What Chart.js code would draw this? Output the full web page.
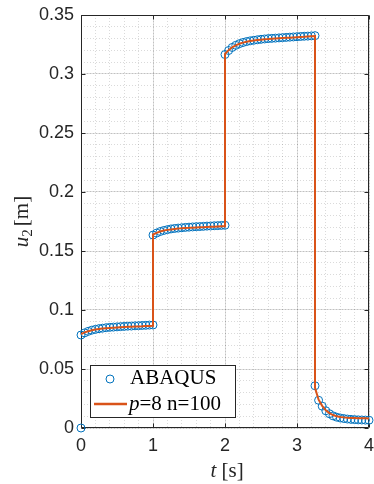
<!DOCTYPE html>
<html>
<head>
<meta charset="utf-8">
<script src="https://cdn.jsdelivr.net/npm/chart.js@4.4.1/dist/chart.umd.min.js"></script>
<style>
  html, body { margin: 0; padding: 0; background: #fff; }
  #wrap { width: 374px; height: 484px; }
</style>
</head>
<body>
<div id="wrap"><canvas id="chart-u2" width="374" height="484"></canvas></div>
<script>
// ── Data ─────────────────────────────────────────────────────
// time steps shared by both series (jumps at t = 1, 2 and 3.25 repeat the time)
const time = [
  0, 0.05, 0.1, 0.15, 0.2, 0.25, 0.3, 0.35, 0.4, 0.45, 0.5, 0.55, 0.6, 0.65, 0.7, 0.75, 0.8, 0.85, 0.9, 0.95, 1,
  1, 1.05, 1.1, 1.15, 1.2, 1.25, 1.3, 1.35, 1.4, 1.45, 1.5, 1.55, 1.6, 1.65, 1.7, 1.75, 1.8, 1.85, 1.9, 1.95, 2,
  2, 2.05, 2.1, 2.15, 2.2, 2.25, 2.3, 2.35, 2.4, 2.45, 2.5, 2.55, 2.6, 2.65, 2.7, 2.75, 2.8, 2.85, 2.9, 2.95, 3, 3.05, 3.1, 3.15, 3.2, 3.25,
  3.25, 3.3, 3.35, 3.4, 3.45, 3.5, 3.55, 3.6, 3.65, 3.7, 3.75, 3.8, 3.85, 3.9, 3.95, 4
];

// ABAQUS starts with an extra point at rest (t = 0, u = 0)
const tAbaqus = [0].concat(time);
const uAbaqus = [
  0,
  0.0788, 0.0806, 0.0819, 0.0829, 0.0836, 0.0842, 0.0846, 0.0850, 0.0853, 0.0855, 0.0857, 0.0859, 0.0861, 0.0863, 0.0864, 0.0866, 0.0867, 0.0869, 0.0870, 0.0872, 0.0873,
  0.1635, 0.1652, 0.1665, 0.1674, 0.1681, 0.1687, 0.1691, 0.1694, 0.1697, 0.1700, 0.1702, 0.1704, 0.1706, 0.1707, 0.1709, 0.1711, 0.1712, 0.1714, 0.1715, 0.1717, 0.1718,
  0.3165, 0.3199, 0.3225, 0.3243, 0.3257, 0.3267, 0.3275, 0.3281, 0.3286, 0.3290, 0.3294, 0.3297, 0.3300, 0.3302, 0.3304, 0.3306, 0.3308, 0.3310, 0.3312, 0.3314, 0.3316, 0.3318, 0.3320, 0.3321, 0.3323, 0.3325,
  0.0358, 0.0235, 0.0185, 0.0146, 0.0121, 0.0103, 0.0092, 0.0085, 0.0080, 0.0076, 0.0073, 0.0071, 0.0069, 0.0068, 0.0067, 0.0066
];

const uModel = [
  0.0795, 0.0810, 0.0820, 0.0828, 0.0834, 0.0839, 0.0843, 0.0846, 0.0848, 0.0850, 0.0852, 0.0854, 0.0856, 0.0857, 0.0858, 0.0860, 0.0861, 0.0862, 0.0864, 0.0865, 0.0866,
  0.1640, 0.1654, 0.1665, 0.1673, 0.1679, 0.1683, 0.1687, 0.1690, 0.1692, 0.1695, 0.1696, 0.1698, 0.1700, 0.1701, 0.1702, 0.1704, 0.1705, 0.1706, 0.1708, 0.1709, 0.1710,
  0.3170, 0.3202, 0.3226, 0.3243, 0.3256, 0.3266, 0.3274, 0.3279, 0.3284, 0.3288, 0.3291, 0.3294, 0.3296, 0.3299, 0.3301, 0.3303, 0.3305, 0.3307, 0.3308, 0.3310, 0.3312, 0.3314, 0.3315, 0.3317, 0.3319, 0.3321,
  0.0340, 0.0240, 0.0188, 0.0150, 0.0126, 0.0110, 0.0100, 0.0094, 0.0090, 0.0087, 0.0085, 0.0084, 0.0083, 0.0082, 0.0082, 0.0081
];

const xTicks      = [0, 1, 2, 3, 4];
const xTickLabels = ['0', '1', '2', '3', '4'];
const yTicks      = [0, 0.05, 0.1, 0.15, 0.2, 0.25, 0.3, 0.35];
const yTickLabels = ['0', '0.05', '0.1', '0.15', '0.2', '0.25', '0.3', '0.35'];

const seriesNames = ['ABAQUS', 'p=8 n=100'];

// ── Style ────────────────────────────────────────────────────
const BLUE   = '#0072BD';
const ORANGE = '#D95319';
const AXIS   = '#262626';
const SANS   = '"Liberation Sans", Arial, sans-serif';
const SERIF  = '"Liberation Serif", "Times New Roman", serif';

// draws a row of text pieces (italic / subscript) centred or left aligned at x
function drawRuns(ctx, runs, x, y, align) {
  let w = 0;
  runs.forEach(r => { ctx.font = r.font; w += ctx.measureText(r.text).width + (r.gap || 0); });
  let cx = align === 'left' ? x : x - w / 2;
  ctx.textAlign = 'left';
  ctx.textBaseline = 'alphabetic';
  runs.forEach(r => {
    ctx.font = r.font;
    ctx.fillText(r.text, cx, y + (r.dy || 0));
    cx += ctx.measureText(r.text).width + (r.gap || 0);
  });
}

// box round the axes with inward tick marks on all four sides
const frame = {
  id: 'frame',
  beforeDatasetsDraw(chart) {
    const { ctx, chartArea: a, scales: { x, y } } = chart;
    const L = a.left + 0.5, R = a.right - 0.5, T = a.top + 0.5, B = a.bottom - 0.5;
    ctx.save();
    ctx.strokeStyle = AXIS;
    ctx.lineWidth = 1;
    ctx.beginPath();
    xTicks.forEach(v => {
      const px = Math.round(x.getPixelForValue(v)) + 0.5;
      ctx.moveTo(px, B); ctx.lineTo(px, B - 4);
      ctx.moveTo(px, T); ctx.lineTo(px, T + 4);
    });
    yTicks.forEach(v => {
      const py = Math.round(y.getPixelForValue(v)) + 0.5;
      ctx.moveTo(L, py); ctx.lineTo(L + 4, py);
      ctx.moveTo(R, py); ctx.lineTo(R - 4, py);
    });
    ctx.rect(L, T, R - L, B - T);
    ctx.stroke();
    ctx.restore();
  }
};

const axisTitles = {
  id: 'axisTitles',
  afterDraw(chart) {
    const ctx = chart.ctx;
    ctx.save();
    ctx.fillStyle = AXIS;
    drawRuns(ctx, [
      { text: 't', font: 'italic 21px ' + SERIF },
      { text: ' [s]', font: '21px ' + SERIF }
    ], 227, 477);
    ctx.translate(28, 221.5);
    ctx.rotate(-Math.PI / 2);
    drawRuns(ctx, [
      { text: 'u', font: 'italic 21px ' + SERIF },
      { text: '2', font: '15px ' + SERIF, dy: 4, gap: 3 },
      { text: '[m]', font: '21px ' + SERIF }
    ], 0, 0);
    ctx.restore();
  }
};

const legendBox = {
  id: 'legendBox',
  afterDraw(chart) {
    const ctx = chart.ctx;
    ctx.save();
    ctx.fillStyle = '#fff';
    ctx.fillRect(90.5, 365.5, 145, 52);
    ctx.strokeStyle = AXIS;
    ctx.lineWidth = 1;
    ctx.strokeRect(90.5, 365.5, 145, 52);

    ctx.beginPath();
    ctx.arc(110, 379, 4, 0, Math.PI * 2);
    ctx.strokeStyle = BLUE;
    ctx.stroke();
    ctx.fillStyle = '#000';
    drawRuns(ctx, [{ text: seriesNames[0], font: '21px ' + SERIF }], 130, 384, 'left');

    ctx.beginPath();
    ctx.moveTo(94, 404);
    ctx.lineTo(127, 404);
    ctx.strokeStyle = ORANGE;
    ctx.lineWidth = 2.5;
    ctx.stroke();
    drawRuns(ctx, [
      { text: seriesNames[1].slice(0, 1), font: 'italic 21px ' + SERIF },
      { text: seriesNames[1].slice(1), font: '21px ' + SERIF }
    ], 129, 409.5, 'left');
    ctx.restore();
  }
};

const tickFont = { family: SANS, size: 18 };

new Chart(document.getElementById('chart-u2'), {
  type: 'scatter',
  data: {
    datasets: [
      {
        type: 'line',
        label: seriesNames[1],
        data: time.map((t, i) => ({ x: t, y: uModel[i] })),
        borderColor: ORANGE,
        borderWidth: 2,
        pointRadius: 0,
        tension: 0,
        fill: false,
        order: 0
      },
      {
        type: 'scatter',
        label: seriesNames[0],
        data: tAbaqus.map((t, i) => ({ x: t, y: uAbaqus[i] })),
        borderColor: BLUE,
        backgroundColor: 'rgba(0,0,0,0)',
        pointRadius: 4,
        pointBorderWidth: 1,
        showLine: false,
        clip: false,
        order: 1
      }
    ]
  },
  options: {
    responsive: false,
    animation: false,
    devicePixelRatio: 1,
    layout: { padding: { top: 15, right: 1, bottom: 0, left: 0 } },
    plugins: { legend: { display: false }, tooltip: { enabled: false } },
    scales: {
      xMinor: {
        type: 'linear', position: 'bottom', min: 0, max: 4, z: -1,
        ticks: { display: false, stepSize: 0.2 },
        grid: { color: 'rgba(38,38,38,0.17)', drawTicks: false },
        border: { display: false, dash: [1, 2] },
        afterFit: s => { s.height = 0; s.paddingLeft = 0; s.paddingRight = 0; }
      },
      yMinor: {
        type: 'linear', position: 'left', min: 0, max: 0.35, z: -1,
        ticks: { display: false, stepSize: 0.01 },
        grid: { color: 'rgba(38,38,38,0.17)', drawTicks: false },
        border: { display: false, dash: [1, 2] },
        afterFit: s => { s.width = 0; s.paddingTop = 0; s.paddingBottom = 0; }
      },
      x: {
        type: 'linear', position: 'bottom', min: 0, max: 4,
        afterBuildTicks: s => { s.ticks = xTicks.map(v => ({ value: v })); },
        ticks: { callback: (v, i) => xTickLabels[i], font: tickFont, color: AXIS, padding: 7, maxRotation: 0, autoSkip: false },
        grid: { color: 'rgba(38,38,38,0.15)', drawTicks: false },
        border: { display: false },
        afterFit: s => { s.height = 56; s.paddingLeft = 0; s.paddingRight = 0; }
      },
      y: {
        type: 'linear', position: 'left', min: 0, max: 0.35,
        afterBuildTicks: s => { s.ticks = yTicks.map(v => ({ value: v })); },
        ticks: { callback: (v, i) => yTickLabels[i], font: tickFont, color: AXIS, padding: 7, autoSkip: false },
        grid: { color: 'rgba(38,38,38,0.15)', drawTicks: false },
        border: { display: false },
        afterFit: s => { s.width = 81; s.paddingTop = 0; s.paddingBottom = 0; }
      }
    }
  },
  plugins: [frame, axisTitles, legendBox]
});
</script>
</body>
</html>
